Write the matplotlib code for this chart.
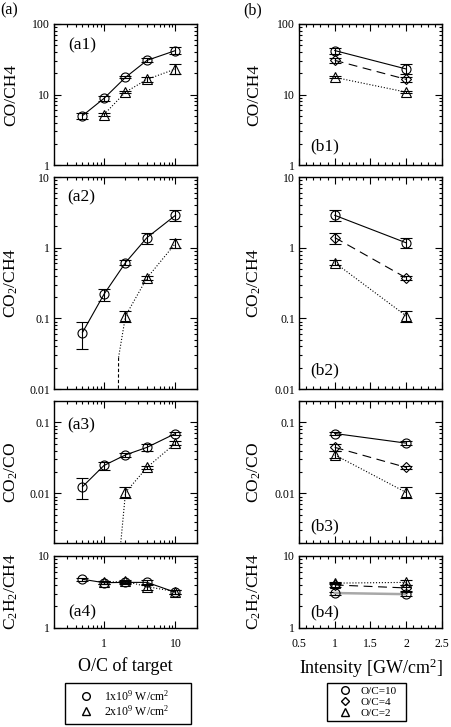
import matplotlib
matplotlib.use('Agg')
import matplotlib.pyplot as plt
from matplotlib.lines import Line2D
from matplotlib.ticker import LogLocator, NullFormatter, FuncFormatter, MultipleLocator
import numpy as np

plt.rcParams['font.family'] = ['Liberation Serif', 'DejaVu Serif']
plt.rcParams['mathtext.fontset'] = 'custom'
plt.rcParams['mathtext.rm'] = 'Liberation Serif'
plt.rcParams['mathtext.it'] = 'Liberation Serif:italic'
plt.rcParams['mathtext.bf'] = 'Liberation Serif:bold'

# ---------------- data ----------------
# (a) vs O/C of target
oc_1e9 = [0.5, 1, 2, 4, 10]
oc_2e9 = [1, 2, 4, 10]

co_ch4_1e9 = [5.0, 8.8, 17.5, 30.5, 42.0]
co_ch4_1e9_lo = [4.5, 8.1, 16.9, 28.5, 38.0]
co_ch4_1e9_hi = [5.5, 9.5, 18.1, 33.0, 46.5]
co_ch4_2e9 = [5.2, 10.8, 16.4, 23.0]
co_ch4_2e9_lo = [5.0, 10.4, 15.2, 19.5]
co_ch4_2e9_hi = [5.4, 11.2, 17.8, 26.8]

co2_ch4_1e9 = [0.063, 0.219, 0.614, 1.39, 2.87]
co2_ch4_1e9_lo = [0.0366, 0.176, 0.56, 1.12, 2.41]
co2_ch4_1e9_hi = [0.088, 0.258, 0.67, 1.60, 3.40]
co2_ch4_2e9 = [0.108, 0.373, 1.15]
co2_ch4_2e9_lo = [0.090, 0.345, 1.00]
co2_ch4_2e9_hi = [0.128, 0.400, 1.34]
oc_co2_2e9 = [2, 4, 10]
# tail of the 2e9 trend curve below O/C=2
co2_ch4_tail_x = [1.58, 1.60, 2.0]
co2_ch4_tail_y = [0.0008, 0.028, 0.108]

co2_co_1e9 = [0.0124, 0.0247, 0.0348, 0.0445, 0.0697]
co2_co_1e9_lo = [0.0083, 0.0216, 0.0328, 0.0390, 0.0657]
co2_co_1e9_hi = [0.0165, 0.0281, 0.0368, 0.0494, 0.0740]
co2_co_2e9 = [0.0103, 0.0232, 0.051]
co2_co_2e9_lo = [0.0085, 0.0220, 0.048]
co2_co_2e9_hi = [0.0124, 0.0244, 0.054]
co2_co_tail_x = [1.66, 2.0]
co2_co_tail_y = [0.0014, 0.0103]

c2h2_ch4_1e9 = [4.75, 4.26, 4.30, 4.30, 3.13]
c2h2_ch4_1e9_err = [0.2, 0.2, 0.2, 0.3, 0.2]
c2h2_ch4_2e9 = [4.30, 4.45, 3.75, 3.20]
c2h2_ch4_2e9_err = [0.2, 0.2, 0.35, 0.2]

# (b) vs intensity
intensity = [1, 2]
b_co_ch4 = {'10': [42.0, 23.0], '4': [30.5, 16.4], '2': [17.5, 10.8]}
b_co_ch4_err = {'10': [4.4, 3.7], '4': [2.5, 1.3], '2': [0.6, 0.4]}
b_co2_ch4 = {'10': [2.87, 1.17], '4': [1.39, 0.373], '2': [0.614, 0.108]}
b_co2_ch4_lo = {'10': [2.41, 1.00], '4': [1.12, 0.345], '2': [0.56, 0.090]}
b_co2_ch4_hi = {'10': [3.40, 1.36], '4': [1.60, 0.400], '2': [0.67, 0.128]}
b_co2_co = {'10': [0.0697, 0.051], '4': [0.0445, 0.0232], '2': [0.0348, 0.0103]}
b_co2_co_lo = {'10': [0.0657, 0.048], '4': [0.0390, 0.0220], '2': [0.0310, 0.0085]}
b_co2_co_hi = {'10': [0.0740, 0.054], '4': [0.0494, 0.0244], '2': [0.0390, 0.0124]}
b_c2h2_ch4 = {'10': [3.06, 2.95], '4': [3.96, 3.60], '2': [4.20, 4.30]}
b_c2h2_ch4_err = {'10': [0.15, 0.2], '4': [0.2, 0.3], '2': [0.15, 0.3]}

ylabels = ['CO/CH4', 'CO$_2$/CH4', 'CO$_2$/CO', 'C$_2$H$_2$/CH4']
ylims = [(1, 100), (0.01, 10), (0.002, 0.2), (1, 10)]
a_tags = ['(a1)', '(a2)', '(a3)', '(a4)']
b_tags = ['(b1)', '(b2)', '(b3)', '(b4)']
legend_a = ['1x10$^9$ W/cm$^2$', '2x10$^9$ W/cm$^2$']
legend_b = ['O/C=10', 'O/C=4', 'O/C=2']

# ---------------- layout ----------------
W, H = 452, 727
fig = plt.figure(figsize=(W / 100, H / 100), dpi=100)
rows_px = [(24, 165), (177, 389), (401, 543), (556, 628)]
left_px = (54, 197)
right_px = (299, 442)

def axes_at(xpx, ypx):
    return fig.add_axes([xpx[0] / W, 1 - ypx[1] / H, (xpx[1] - xpx[0]) / W, (ypx[1] - ypx[0]) / H])

axA = [axes_at(left_px, r) for r in rows_px]
axB = [axes_at(right_px, r) for r in rows_px]

LW = 0.8
MS = 6.5
CAP = 4

def ebar(ax, x, y, lo, hi, marker, ls, color='k', lw=LW, dashes=None, ms=MS):
    y = np.asarray(y, float)
    yerr = [y - np.asarray(lo, float), np.asarray(hi, float) - y]
    ax.errorbar(x, y, yerr=yerr, fmt='none', ecolor='k', elinewidth=LW, capsize=CAP, capthick=LW, zorder=3)
    kw = dict(marker=marker, ms=ms, mfc='none', mec='k', mew=LW, color=color, lw=lw, ls=ls, zorder=4)
    line, = ax.plot(x, y, **kw)
    if dashes is not None:
        line.set_dashes(dashes)
    return line

def sym(y, e):
    y = np.asarray(y, float); e = np.asarray(e, float)
    return y - e, y + e

# (a1)
ebar(axA[0], oc_1e9, co_ch4_1e9, co_ch4_1e9_lo, co_ch4_1e9_hi, 'o', '-')
ebar(axA[0], oc_2e9, co_ch4_2e9, co_ch4_2e9_lo, co_ch4_2e9_hi, '^', ':')
# (a2)
ebar(axA[1], oc_1e9, co2_ch4_1e9, co2_ch4_1e9_lo, co2_ch4_1e9_hi, 'o', '-')
ebar(axA[1], oc_co2_2e9, co2_ch4_2e9, co2_ch4_2e9_lo, co2_ch4_2e9_hi, '^', ':')
axA[1].plot(co2_ch4_tail_x[:2], co2_ch4_tail_y[:2], color='k', lw=LW, ls=(0, (3, 2)))
axA[1].plot(co2_ch4_tail_x[1:], co2_ch4_tail_y[1:], color='k', lw=LW, ls=':')
# (a3)
ebar(axA[2], oc_1e9, co2_co_1e9, co2_co_1e9_lo, co2_co_1e9_hi, 'o', '-')
ebar(axA[2], oc_co2_2e9, co2_co_2e9, co2_co_2e9_lo, co2_co_2e9_hi, '^', ':')
axA[2].plot(co2_co_tail_x, co2_co_tail_y, color='k', lw=LW, ls=':')
# (a4)
lo, hi = sym(c2h2_ch4_1e9, c2h2_ch4_1e9_err)
ebar(axA[3], oc_1e9, c2h2_ch4_1e9, lo, hi, 'o', '-')
lo, hi = sym(c2h2_ch4_2e9, c2h2_ch4_2e9_err)
ebar(axA[3], oc_2e9, c2h2_ch4_2e9, lo, hi, '^', ':')

# (b) panels
styles = {'10': ('o', '-', 'k'), '4': ('D', '--', 'k'), '2': ('^', ':', 'k')}
def bpanel(ax, vals, lo, hi, c10='k', lw10=LW):
    for key in ['10', '4', '2']:
        m, ls, c = styles[key]
        ms = 5 if m == 'D' else MS
        d = (8, 5) if key == '4' else None
        col = c10 if key == '10' else c
        lw = lw10 if key == '10' else LW
        ebar(ax, intensity, vals[key], lo[key], hi[key], m, ls, color=col, lw=lw, dashes=d, ms=ms)

lo = {k: sym(b_co_ch4[k], b_co_ch4_err[k])[0] for k in b_co_ch4}
hi = {k: sym(b_co_ch4[k], b_co_ch4_err[k])[1] for k in b_co_ch4}
bpanel(axB[0], b_co_ch4, lo, hi)
bpanel(axB[1], b_co2_ch4, b_co2_ch4_lo, b_co2_ch4_hi)
bpanel(axB[2], b_co2_co, b_co2_co_lo, b_co2_co_hi)
lo = {k: sym(b_c2h2_ch4[k], b_c2h2_ch4_err[k])[0] for k in b_c2h2_ch4}
hi = {k: sym(b_c2h2_ch4[k], b_c2h2_ch4_err[k])[1] for k in b_c2h2_ch4}
bpanel(axB[3], b_c2h2_ch4, lo, hi, c10='#a8a8a8', lw10=1.8)

fmt = FuncFormatter(lambda v, p: '%g' % v)
for i, (a, b) in enumerate(zip(axA, axB)):
    for ax in (a, b):
        ax.set_yscale('log')
        ax.set_ylim(*ylims[i])
        ax.yaxis.set_major_locator(LogLocator(base=10, numticks=10))
        ax.yaxis.set_minor_locator(LogLocator(base=10, subs=np.arange(2, 10), numticks=20))
        ax.yaxis.set_major_formatter(fmt)
        ax.yaxis.set_minor_formatter(NullFormatter())
        ax.tick_params(which='both', direction='in', top=True, right=True, labelsize=8.5, pad=3, width=0.8)
        ax.tick_params(which='major', length=5)
        ax.tick_params(which='minor', length=2.5)
        ax.tick_params(axis='x', pad=7)
        for s in ax.spines.values():
            s.set_linewidth(1.0)
        ax.set_ylabel(ylabels[i], fontsize=12.5, va='center')
    a.yaxis.set_label_coords(-0.30, 0.5)
    b.yaxis.set_label_coords(-0.31, 0.5)
    a.set_xscale('log')
    a.set_xlim(0.2, 20)
    a.xaxis.set_major_locator(LogLocator(base=10, numticks=10))
    a.xaxis.set_minor_locator(LogLocator(base=10, subs=np.arange(2, 10), numticks=20))
    a.xaxis.set_major_formatter(fmt)
    a.xaxis.set_minor_formatter(NullFormatter())
    b.set_xlim(0.5, 2.5)
    b.xaxis.set_major_locator(MultipleLocator(0.5))
    b.xaxis.set_minor_locator(MultipleLocator(0.1))
    b.xaxis.set_major_formatter(fmt)
    if i < 3:
        a.tick_params(axis='x', labelbottom=False)
        b.tick_params(axis='x', labelbottom=False)

axA[3].set_xlabel('O/C of target', fontsize=13, labelpad=5)
axB[3].set_xlabel('Intensity [GW/cm$^2$]', fontsize=13, labelpad=5)

a_tag_pos = [(0.10, 0.85), (0.09, 0.905), (0.09, 0.83), (0.10, 0.22)]
b_tag_pos = [(0.08, 0.13), (0.08, 0.09), (0.08, 0.12), (0.08, 0.21)]
for ax, t, p in zip(axA, a_tags, a_tag_pos):
    ax.text(p[0], p[1], t, transform=ax.transAxes, fontsize=12.5, ha='left', va='center')
for ax, t, p in zip(axB, b_tags, b_tag_pos):
    ax.text(p[0], p[1], t, transform=ax.transAxes, fontsize=12.5, ha='left', va='center')

fig.text(0.0 / W, 1 - 2 / H, '(a)', fontsize=11.5, ha='left', va='top')
fig.text(243 / W, 1 - 2 / H, '(b)', fontsize=11.5, ha='left', va='top')

def mk(m, ms=5.5):
    return Line2D([], [], marker=m, ls='none', mfc='none', mec='k', mew=1.0, ms=ms)

legA = fig.legend([mk('o'), mk('^')], legend_a, loc='upper left', mode='expand',
                  bbox_to_anchor=(65 / W, 1 - 720 / H, 126 / W, 37 / H), bbox_transform=fig.transFigure,
                  frameon=True, fancybox=False, edgecolor='k', framealpha=1, fontsize=8.5,
                  handlelength=2.6, handletextpad=0.2, borderpad=0.5, labelspacing=0.0,
                  borderaxespad=0)
legA.get_frame().set_linewidth(1.0)
legB = fig.legend([mk('o'), mk('D', 4.5), mk('^')], legend_b, loc='upper left', mode='expand',
                  bbox_to_anchor=(327 / W, 1 - 726 / H, 79 / W, 43 / H), bbox_transform=fig.transFigure,
                  frameon=True, fancybox=False, edgecolor='k', framealpha=1, fontsize=8,
                  handlelength=2.6, handletextpad=0.1, borderpad=0.3, labelspacing=0.1,
                  borderaxespad=0)
legB.get_frame().set_linewidth(1.0)

fig.savefig('out.png', dpi=100)
